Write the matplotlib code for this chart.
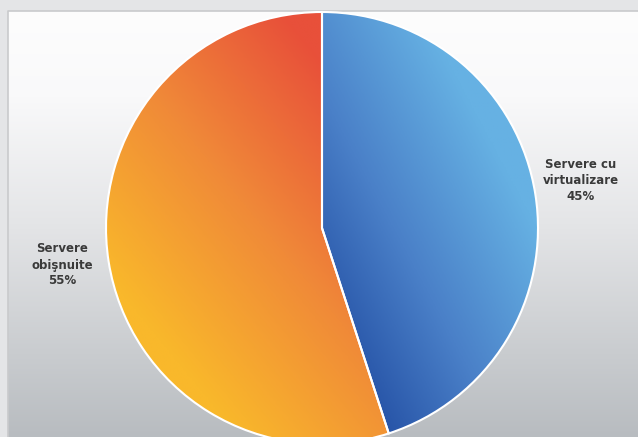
import matplotlib.pyplot as plt
import numpy as np
from matplotlib.colors import LinearSegmentedColormap

sizes = [45, 55]
labels = ['Servere cu\nvirtualizare\n45%', 'Servere\nobişnuite\n55%']

W, H = 638, 437
fig = plt.figure(figsize=(W / 100, H / 100), dpi=100)
ax = fig.add_axes([0, 0, 1, 1])

# outer frame and the gradient panel
ax.add_patch(plt.Rectangle((0, 0), W, H, color='#e4e5e7', zorder=0))
grad = np.linspace(0, 1, 256).reshape(-1, 1)
bg = LinearSegmentedColormap.from_list(
    'bg', [(0, '#b8bcc0'), (0.5, '#e4e5e7'), (0.8, '#f9f9fa'), (1, '#fdfdfd')])
ax.imshow(grad, cmap=bg, extent=(8, W, 0, H - 11), aspect='auto', zorder=1, origin='lower')
ax.plot([8, 8, W], [0, H - 11, H - 11], color='#c9cacc', lw=1.2, zorder=2)

cx, cy, r = 322, 437 - 228, 216
wedges, _ = ax.pie(sizes, center=(cx, cy), radius=r, startangle=90,
                   counterclock=False, frame=True,
                   wedgeprops=dict(edgecolor='white', linewidth=1.5))

# gradient fills clipped to each wedge (row 0 = top)
yy, xx = np.mgrid[0:1:300j, 0:1:300j]
ext = (cx - r, cx + r, cy - r, cy + r)
blue = LinearSegmentedColormap.from_list('b', ['#1f4aa0', '#4a80c8', '#66b1e3'])
orng = LinearSegmentedColormap.from_list('o', ['#f9b82b', '#f08a38', '#e8503a'])
tb = np.clip(1.5 * (xx - 0.5) + 0.8 * (1 - yy) - 0.15, 0, 1)
to = np.clip(1.1 * xx + 0.9 * (1 - yy) - 0.35, 0, 1)
for w, t, cm in [(wedges[0], tb, blue), (wedges[1], to, orng)]:
    w.set_facecolor('none')
    w.set_zorder(4)
    im = ax.imshow(t, cmap=cm, extent=ext, origin='upper', aspect='auto',
                   zorder=3, vmin=0, vmax=1)
    im.set_clip_path(w)

ax.text(581, H - 180, labels[0], ha='center', va='center', fontsize=8.5,
        fontweight='bold', color='#3a3a3a', linespacing=1.3, zorder=5)
ax.text(62, H - 265, labels[1], ha='center', va='center', fontsize=8.5,
        fontweight='bold', color='#3a3a3a', linespacing=1.3, zorder=5)

ax.set_xlim(0, W)
ax.set_ylim(0, H)
ax.set_aspect('auto')
ax.axis('off')
fig.savefig('out.png', dpi=100)
